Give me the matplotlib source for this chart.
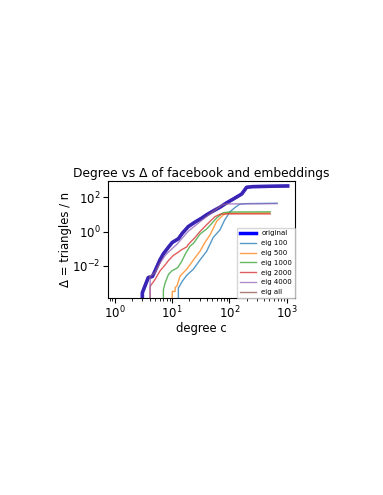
import numpy as np
import matplotlib
matplotlib.use("Agg")
import matplotlib.pyplot as plt

# ---- data ----
orig_x = [1, 2, 2.95, 3.0, 3.8, 4.5, 5.0, 6.1, 7.0, 8.55, 10, 12.8, 15, 19.1, 25, 32.7, 40, 56, 68.5, 90, 120, 164, 200, 250, 500, 1045]
orig_y = [0, 0, 0, 10**-3.57, 10**-2.69, 10**-2.62, 10**-2.3, 10**-1.65, 10**-1.3, 10**-0.92, 10**-0.64,
          10**-0.42, 10**-0.1, 10**0.29, 10**0.55, 10**0.78, 10**0.98, 10**1.26, 10**1.42, 10**1.68,
          10**1.92, 10**2.19, 10**2.58, 10**2.62, 10**2.64, 10**2.66]

e100_x = [1, 12.7, 12.8, 15, 18, 23.4, 30, 40, 52, 68.5, 78, 83, 102, 125, 153, 200, 685]
e100_y = [0, 0, 10**-3.3, 10**-2.9, 10**-2.55, 10**-2.2, 10**-1.7, 10**-1.15, 10**-0.35, 10**0.1,
          10**0.5, 10**0.68, 10**1.15, 10**1.4, 10**1.6, 10**1.63, 10**1.65]

e500_x = [1, 9.9, 10, 11.2, 11.3, 12, 13.7, 17.9, 23, 30.6, 38, 45.7, 60, 78, 90, 500]
e500_y = [0, 0, 10**-3.5, 10**-3.5, 10**-3.25, 10**-3.2, 10**-2.6, 10**-2.2, 10**-1.7, 10**-1.15,
          10**-0.6, 10**-0.2, 10**0.6, 10**0.97, 10**1.06, 10**1.08]

e1000_x = [1, 6.9, 7.0, 7.5, 8.55, 9.8, 11.2, 12.5, 14.6, 17, 20.5, 23.4, 30.6, 40, 50, 60, 78, 100, 520]
e1000_y = [0, 0, 10**-3.4, 10**-3.0, 10**-2.52, 10**-2.3, 10**-2.2, 10**-2.1, 10**-1.75, 10**-1.3,
           10**-0.85, 10**-0.7, 10**-0.15, 10**0.15, 10**0.5, 10**0.8, 10**1.1, 10**1.14, 10**1.15]

e2000_x = [1, 4.0, 4.1, 5, 6.1, 7.5, 8.55, 10.4, 12.8, 14.6, 17.9, 19.1, 25, 30.6, 40, 56, 70, 85, 520]
e2000_y = [0, 0, 10**-3.2, 10**-2.8, 10**-2.3, 10**-1.95, 10**-1.7, 10**-1.4, 10**-1.2, 10**-1.06,
           10**-0.9, 10**-0.75, 10**-0.35, 10**0.0, 10**0.4, 10**0.87, 10**1.02, 10**1.03, 10**1.03]

e4000_x = [1, 4.0, 4.1, 5, 6.1, 7.5, 8.55, 12, 19.1, 32.7, 45, 60, 75, 90, 680]
e4000_y = [0, 0, 10**-2.6, 10**-2.4, 10**-1.85, 10**-1.4, 10**-1.2, 10**-0.75, 10**0.02, 10**0.65,
           10**1.0, 10**1.33, 10**1.55, 10**1.61, 10**1.63]

eall_x = orig_x
eall_y = orig_y

labels = ["original", "eig 100", "eig 500", "eig 1000", "eig 2000", "eig 4000", "eig all"]

fig = plt.figure(figsize=(3.83, 4.95), dpi=100)
ax = fig.add_axes([0.281, 0.398, 0.489, 0.236])

ax.plot(orig_x, orig_y, color="blue", lw=2.5, label=labels[0])
series = [(e100_x, e100_y), (e500_x, e500_y), (e1000_x, e1000_y),
          (e2000_x, e2000_y), (e4000_x, e4000_y), (eall_x, eall_y)]
colors = ["#1f77b4", "#ff7f0e", "#2ca02c", "#d62728", "#9467bd", "#8c564b"]
widths = [1.0, 1.0, 1.0, 1.0, 1.0, 2.5]
alphas = [0.75, 0.75, 0.75, 0.75, 0.8, 0.42]
for (xs, ys), c, lab, w, a in zip(series, colors, labels[1:], widths, alphas):
    ax.plot(xs, ys, color=c, lw=w, alpha=a, label=lab)

ax.set_xscale("log")
ax.set_yscale("log", nonpositive="clip")
ax.set_xlim(0.74, 1400)
ax.set_ylim(10**-3.88, 10**2.94)
ax.set_xticks([1, 10, 100, 1000])
ax.set_yticks([1e-2, 1, 1e2])
ax.tick_params(labelsize=8.5, pad=1.5)
ax.set_xlabel("degree c", fontsize=8.4, labelpad=0.5)
ax.set_ylabel("Δ = triangles / n", fontsize=8.4, labelpad=0.0)
ax.set_title("Degree vs Δ of facebook and embeddings", fontsize=8.8, pad=3)
leg = ax.legend(loc="lower right", fontsize=5.0, borderaxespad=0.0,
                labelspacing=0.55, handlelength=2.3)
for ln in leg.get_lines()[1:]:
    ln.set_linewidth(1.0)
    ln.set_alpha(0.75)

fig.savefig("out.png", dpi=100)
